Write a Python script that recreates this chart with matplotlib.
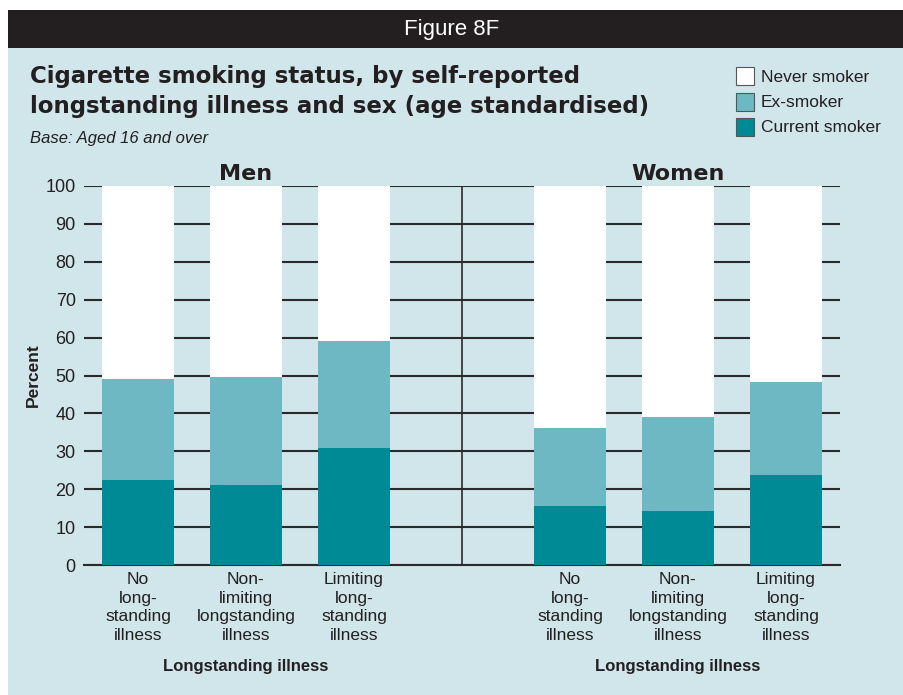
import matplotlib
matplotlib.use("Agg")
import matplotlib.pyplot as plt
from matplotlib.patches import Rectangle

plt.rcParams['font.family'] = ['Liberation Sans', 'DejaVu Sans']

categories = ["No\nlong-\nstanding\nillness",
              "Non-\nlimiting\nlongstanding\nillness",
              "Limiting\nlong-\nstanding\nillness"]
groups = ["Men", "Women"]
current_men = [22.4, 21.1, 30.9]
ex_men = [26.7, 28.5, 28.2]
current_women = [15.6, 14.2, 23.7]
ex_women = [20.5, 24.8, 24.6]
series_names = ["Never smoker", "Ex-smoker", "Current smoker"]
yticks = list(range(0, 101, 10))

BG = "#d0e6eb"
DARK = "#008a96"
LIGHT = "#6db8c2"
BAND = "#231f20"

W, H = 904, 695
fig = plt.figure(figsize=(W / 100, H / 100), dpi=100)
fig.patch.set_facecolor("white")

def fx(px):
    return px / W

def fy(py):
    return 1 - py / H

# background panel and header band
fig.patches.append(Rectangle((fx(8), 0), 1 - fx(8), fy(48), transform=fig.transFigure,
                             facecolor=BG, edgecolor="none", zorder=-2))
fig.patches.append(Rectangle((fx(8), fy(48)), 1 - fx(8), fy(10) - fy(48), transform=fig.transFigure,
                             facecolor=BAND, edgecolor="none", zorder=-2))
fig.text(fx(452), fy(29), "Figure 8F", color="white", fontsize=16, ha="center", va="center")

title_font = ['DejaVu Sans']
fig.text(fx(30), fy(76), "Cigarette smoking status, by self-reported", fontsize=16.5,
         fontweight="bold", family=title_font, ha="left", va="center", color="#231f20")
fig.text(fx(30), fy(106), "longstanding illness and sex (age standardised)", fontsize=16.5,
         fontweight="bold", family=title_font, ha="left", va="center", color="#231f20")
fig.text(fx(30), fy(138), "Base: Aged 16 and over", fontsize=12, style="italic",
         ha="left", va="center", color="#231f20")

# legend
leg_colors = ["white", LIGHT, DARK]
for i, (name, c) in enumerate(zip(series_names, leg_colors)):
    ytop = 67 + i * 25.5
    fig.patches.append(Rectangle((fx(736), fy(ytop + 18)), fx(18), fy(ytop) - fy(ytop + 18),
                                 transform=fig.transFigure, facecolor=c,
                                 edgecolor="#555555", linewidth=0.8, zorder=2))
    fig.text(fx(761), fy(ytop + 10), name, fontsize=12.5, ha="left", va="center", color="#231f20")

ax = fig.add_axes([fx(84), fy(565), fx(840) - fx(84), fy(186) - fy(565)])
ax.set_facecolor("none")
ax.set_zorder(1)

pos_men = [0, 1, 2]
pos_women = [4, 5, 6]
width = 0.667

for pos, cur, ex in [(pos_men, current_men, ex_men), (pos_women, current_women, ex_women)]:
    tot = [c + e for c, e in zip(cur, ex)]
    never = [100 - t for t in tot]
    ax.bar(pos, cur, width, color=DARK, zorder=3, linewidth=0)
    ax.bar(pos, ex, width, bottom=cur, color=LIGHT, zorder=3, linewidth=0)
    ax.bar(pos, never, width, bottom=tot, color="white", zorder=3, linewidth=0)

ax.set_xlim(-0.5, 6.5)
ax.set_ylim(0, 100)
ax.set_yticks(yticks)
ax.set_yticklabels([str(v) for v in yticks], fontsize=13, color="#231f20")
ax.yaxis.grid(True, color="#2a2a2a", linewidth=1.5, zorder=1)
ax.set_axisbelow(True)
ax.tick_params(axis="y", length=0, pad=6)
ax.tick_params(axis="x", length=0, pad=5)
for s in ["top", "right", "left"]:
    ax.spines[s].set_visible(False)
ax.spines["bottom"].set_color("#2a2a2a")
ax.spines["bottom"].set_linewidth(1.5)
ax.axvline(3, color="#2a2a2a", linewidth=1.2, zorder=2)

ax.set_xticks(pos_men + pos_women)
ax.set_xticklabels(categories + categories, fontsize=12.5, color="#231f20", linespacing=1.3)

ax.set_ylabel("Percent", fontsize=12.5, fontweight="bold", color="#231f20", labelpad=3)

ax.text(1, 101.6, groups[0], fontsize=16, fontweight="bold", family=title_font, ha="center",
        va="baseline", color="#231f20", transform=ax.transData)
ax.text(5, 101.6, groups[1], fontsize=16, fontweight="bold", family=title_font, ha="center",
        va="baseline", color="#231f20", transform=ax.transData)

fig.text(fx(246), fy(666), "Longstanding illness", fontsize=12, fontweight="bold",
         ha="center", va="center", color="#231f20")
fig.text(fx(678), fy(666), "Longstanding illness", fontsize=12, fontweight="bold",
         ha="center", va="center", color="#231f20")

fig.savefig("out.png", dpi=100, facecolor=fig.get_facecolor())
